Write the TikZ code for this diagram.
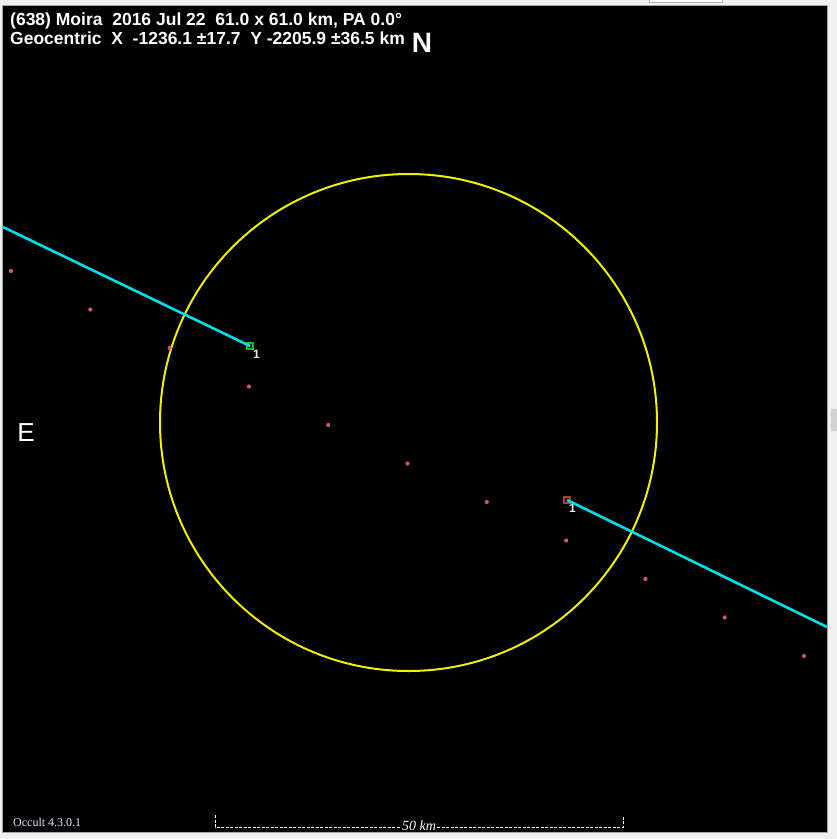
\documentclass[tikz,border=0pt]{standalone}
\usepackage{fontspec}
\setmainfont{Liberation Sans}
\newfontfamily\serifcap{Liberation Serif}
\usepackage{xcolor}
\usetikzlibrary{positioning, calc}

\definecolor{winbg}{HTML}{F0F0F0}
\definecolor{chordcol}{HTML}{00E0E8}
\definecolor{limbcol}{HTML}{F0F000}
\definecolor{dotcol}{HTML}{D0508A}
\definecolor{markred}{HTML}{B04030}
\definecolor{markgrn}{HTML}{10C010}

\begin{document}
\begin{tikzpicture}[
  x=1pt, y=-1pt,
  chord/.style={draw=chordcol, line width=2.6pt},
  limb/.style={draw=limbcol, line width=2pt},
  dotpt/.style={fill=dotcol},
  endmark/.style={rectangle, draw, line width=1.6pt, minimum size=6pt, inner sep=0pt},
  chordnum/.style={text=white!85!gray, font=\fontsize{12}{12}\selectfont\bfseries, inner sep=0pt},
  header/.style={text=white, anchor=base west, inner sep=0pt,
    font=\fontsize{17.5}{19}\selectfont\bfseries},
  scalebar/.style={draw=white, line width=0.9pt, dash pattern=on 3pt off 1.5pt}
]

  % Window and plot area
  \useasboundingbox (0,0) rectangle (837,839);
  \fill[winbg] (0,0) rectangle (837,839);
  \fill[black] (3,6) rectangle (827,832);
  \draw[gray!70] (2.5,5.5) -- (827.5,5.5) -- (827.5,832.5) -- (2.5,832.5) -- cycle;
  \filldraw[fill=white, draw=gray!60] (649,-1) rectangle (722,2.5);
  \fill[gray!35] (831,409) rectangle (837,431);

  % Header texts
  \node (title) [header] at (10,25.5) {(638) Moira\ \ 2016 Jul 22\ \ 61.0 x 61.0 km, PA 0.0°};
  \node (geo) [header] at (10,44.5) {Geocentric\ \ X\ \ -1236.1 ±17.7\ \ Y -2205.9 ±36.5 km};
  \node (north) [text=white, anchor=base, inner sep=0pt,
    font=\fontsize{28}{28}\selectfont\bfseries] at (422,52) {N};
  \node (east) [text=white, anchor=base, inner sep=0pt,
    font=\fontsize{26}{26}\selectfont] at (26,441) {E};

  % Asteroid outline
  \draw[limb] (408.5,422.5) circle[radius=248.5pt];

  % Path of the centre
  \foreach \i in {0,...,10}
    \fill[dotpt] (11+79.3*\i, 271+38.5*\i) circle[radius=2.1pt];

  % Chord end points
  \node (d1) [endmark, draw=markgrn] at (250,346) {};
  \node (r1) [endmark, draw=markred] at (567,500) {};
  \node [chordnum, anchor=north west] at ($(d1.center)+(3,4)$) {1};
  \node [chordnum, anchor=north west] at ($(r1.center)+(2,4)$) {1};

  % Chords
  \coordinate (west) at (3,227);
  \coordinate (eastend) at (827,627);
  \draw[chord] (west) -- (d1.center);
  \draw[chord] (r1.center) -- (eastend);

  % Scale bar
  \coordinate (sbl) at (215,827);
  \coordinate (sbr) at (623,827);
  \draw[scalebar] ($(sbl)+(0,-12)$) -- (sbl) -- (sbr) -- ($(sbr)+(0,-12)$);
  \node (km) [fill=black, text=white, inner sep=1pt,
    font=\fontsize{14}{14}\selectfont\serifcap\itshape] at ($(sbl)!0.5!(sbr)+(0,-1)$) {50 km};

  % Program version
  \node (ver) [text=white!90!blue, anchor=base west, inner sep=0pt,
    font=\fontsize{12}{12}\selectfont\serifcap] at (13,826) {Occult 4.3.0.1};

\end{tikzpicture}
\end{document}
